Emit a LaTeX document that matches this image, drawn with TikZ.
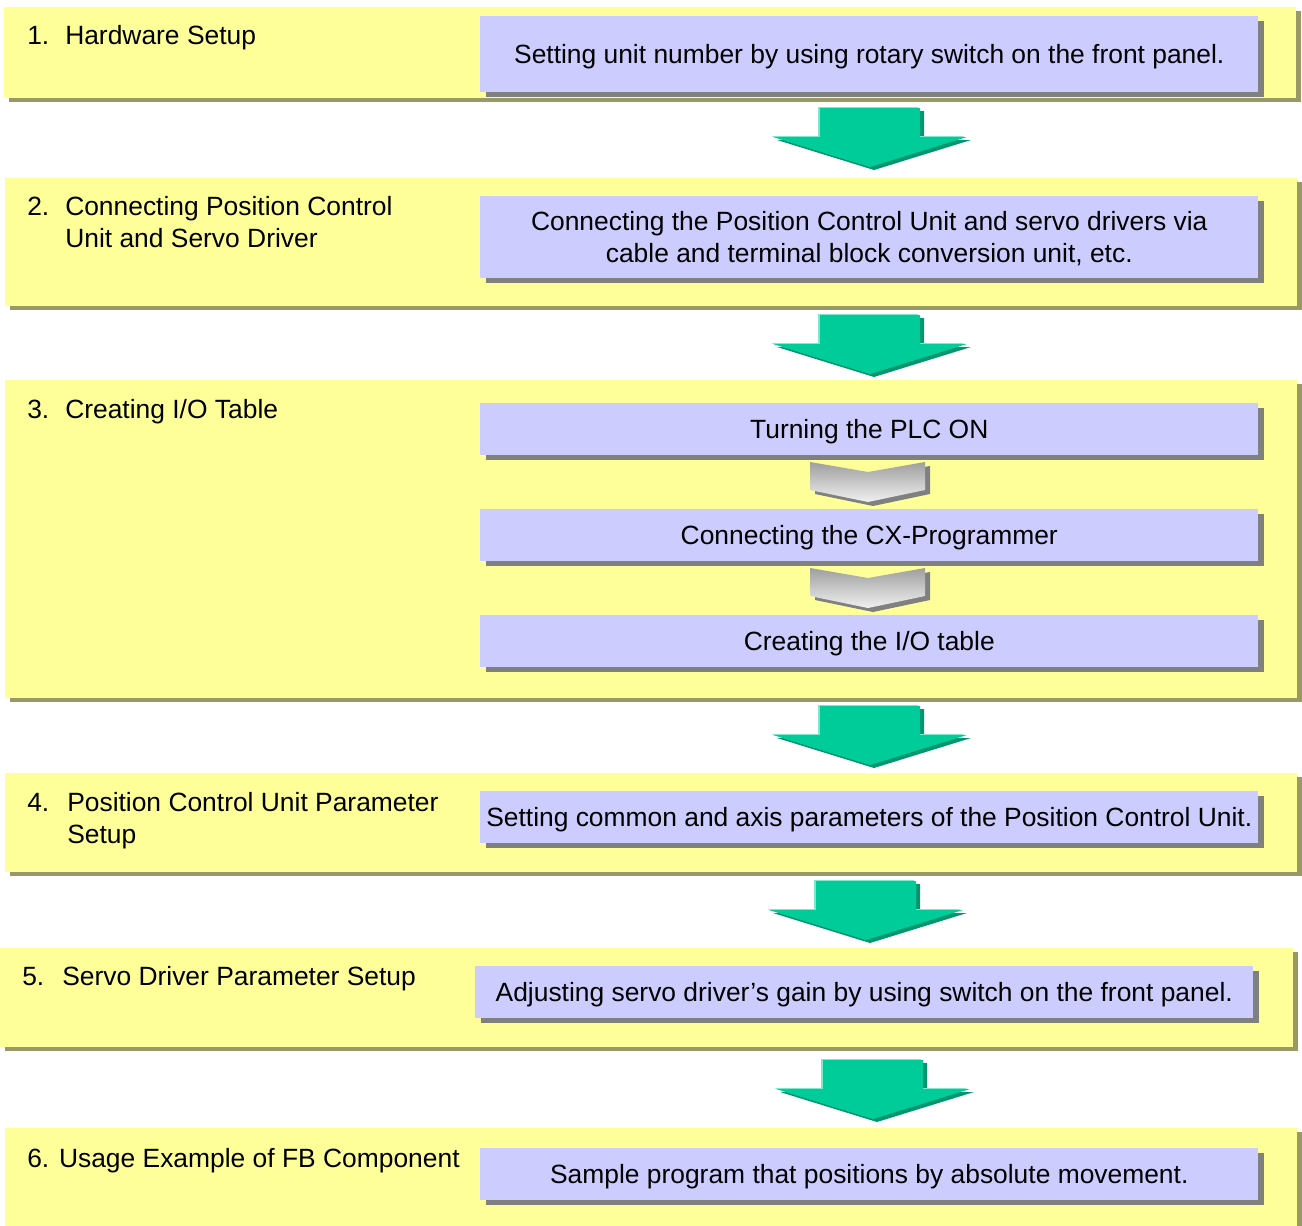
\documentclass[tikz,border=0pt]{standalone}
\usepackage{fontspec}
\setmainfont{Liberation Sans}
\usetikzlibrary{shadows}
\definecolor{panelY}{HTML}{FFFF99}
\definecolor{panelSh}{HTML}{999966}
\definecolor{boxB}{HTML}{CCCCFF}
\definecolor{boxSh}{HTML}{808080}
\definecolor{arrG}{HTML}{00CC99}
\definecolor{arrGd}{HTML}{00966E}
\definecolor{arrGl}{HTML}{80E6CC}
\tikzset{
  panel/.style={fill=panelY, draw=none, anchor=north west, inner sep=0pt,
    drop shadow={shadow xshift=3.75pt, shadow yshift=-3pt, fill=panelSh, opacity=1}},
  bluebox/.style={fill=boxB, draw=none, anchor=north west, inner sep=0pt,
    align=center, font=\fontsize{19.8}{24}\selectfont, text depth=0pt,
    drop shadow={shadow xshift=4.5pt, shadow yshift=-3.75pt, fill=boxSh, opacity=1}},
  steplabel/.style={anchor=base west, inner sep=0pt, font=\fontsize{19.8}{24}\selectfont},
  greenarrow/.pic={
    \fill[arrGd] (4,3) -- ++(-50,0) -- ++(0,29) -- ++(-47,0) -- ++(97,30) -- ++(97,-30) -- ++(-47,0) -- ++(0,-29) -- cycle;
    \fill[arrGl] (-2,-1) -- ++(-50,0) -- ++(0,29) -- ++(-47,0) -- ++(97,30) -- ++(97,-30) -- ++(-47,0) -- ++(0,-29) -- cycle;
    \fill[arrG] (0,0) -- (-50,0) -- (-50,29) -- (-97,29) -- (0,59) -- (97,29) -- (50,29) -- (50,0) -- cycle;
  },
  graychev/.pic={
    \fill[boxSh] (-53,4) -- (5,14) -- (62,4) -- (62,32) -- (5,44) -- (-53,32) -- cycle;
    \shade[top color=gray!75, bottom color=gray!12] (-58,0) -- (0,10) -- (57,0) -- (57,28) -- (0,40) -- (-58,28) -- cycle;
  }
}
\begin{document}
\begin{tikzpicture}[x=0.75pt,y=-0.75pt]
\useasboundingbox (0,0) rectangle (1302,1225);
\clip (0,0) rectangle (1302,1225);
% panels
\node[panel, minimum width=1292*0.75pt, minimum height=91*0.75pt] (p1) at (4,7) {};
\node[panel, minimum width=1292*0.75pt, minimum height=128*0.75pt] (p2) at (5,178) {};
\node[panel, minimum width=1292*0.75pt, minimum height=318*0.75pt] (p3) at (5,380) {};
\node[panel, minimum width=1292*0.75pt, minimum height=99*0.75pt] (p4) at (5,773) {};
\node[panel, minimum width=1293*0.75pt, minimum height=99*0.75pt] (p5) at (0,948) {};
\node[panel, minimum width=1292*0.75pt, minimum height=110*0.75pt] (p6) at (5,1128) {};
% labels
\node[steplabel] (l1) at (27,44) {\makebox[28.5pt][l]{1.}Hardware Setup};
\node[steplabel] (l2) at (27,215) {\makebox[28.5pt][l]{2.}\parbox[t]{300pt}{Connecting Position Control\\Unit and Servo Driver}};
\node[steplabel] (l3) at (27,418) {\makebox[28.5pt][l]{3.}Creating I/O Table};
\node[steplabel] (l4) at (27,811) {\makebox[30pt][l]{4.}\parbox[t]{320pt}{Position Control Unit Parameter\\Setup}};
\node[steplabel] (l5) at (22,985) {\makebox[30pt][l]{5.}Servo Driver Parameter Setup};
\node[steplabel] (l6) at (27,1167) {6. Usage Example of FB Component};
% blue boxes
\node[bluebox, minimum width=778*0.75pt, minimum height=76*0.75pt] (b1) at (480,16) {Setting unit number by using rotary switch on the front panel.};
\node[bluebox, minimum width=778*0.75pt, minimum height=82*0.75pt] (b2) at (480,196) {Connecting the Position Control Unit and servo drivers via\\cable and terminal block conversion unit, etc.};
\node[bluebox, minimum width=778*0.75pt, minimum height=52*0.75pt] (b3a) at (480,403) {Turning the PLC ON};
\node[bluebox, minimum width=778*0.75pt, minimum height=52*0.75pt] (b3b) at (480,509) {Connecting the CX-Programmer};
\node[bluebox, minimum width=778*0.75pt, minimum height=52*0.75pt] (b3c) at (480,615) {Creating the I/O table};
\node[bluebox, minimum width=778*0.75pt, minimum height=52*0.75pt] (b4) at (480,791) {Setting common and axis parameters of the Position Control Unit.};
\node[bluebox, minimum width=778*0.75pt, minimum height=52*0.75pt] (b5) at (475,966) {Adjusting servo driver’s gain by using switch on the front panel.};
\node[bluebox, minimum width=778*0.75pt, minimum height=52*0.75pt] (b6) at (480,1148) {Sample program that positions by absolute movement.};
% gray chevrons
\pic at (868,462) {graychev};
\pic at (868,568) {graychev};
% green arrows
\pic at (870,108) {greenarrow};
\pic at (870,315) {greenarrow};
\pic at (870,706) {greenarrow};
\pic at (866,881) {greenarrow};
\pic at (873,1060) {greenarrow};
\end{tikzpicture}
\end{document}
